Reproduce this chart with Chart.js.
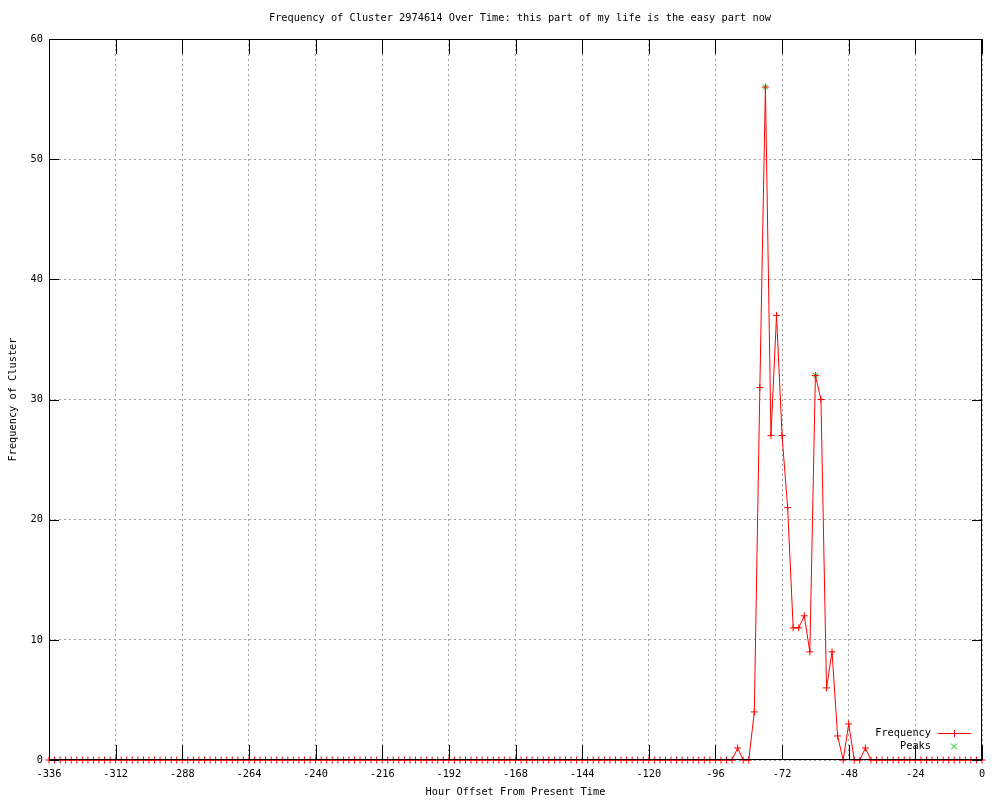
<!DOCTYPE html>
<html>
<head>
  <script src="https://cdn.jsdelivr.net/npm/chart.js"></script>
  <style>
    html, body { margin: 0; padding: 0; background: #fff; }
  </style>
</head>
<body>
  <div style="width: 1000px; height: 800px;">
    <canvas id="freqChart" width="1000" height="800"></canvas>
  </div>

  <script>

    // one sample every 2 hours, from -336 to 0
    const hours = [];
    for (let h = -336; h <= 0; h += 2) hours.push(h);

    const frequency = [
      0,0,0,0,0,0,0,0,0,0,0,0,   // -336 .. -314
      0,0,0,0,0,0,0,0,0,0,0,0,   // -312 .. -290
      0,0,0,0,0,0,0,0,0,0,0,0,   // -288 .. -266
      0,0,0,0,0,0,0,0,0,0,0,0,   // -264 .. -242
      0,0,0,0,0,0,0,0,0,0,0,0,   // -240 .. -218
      0,0,0,0,0,0,0,0,0,0,0,0,   // -216 .. -194
      0,0,0,0,0,0,0,0,0,0,0,0,   // -192 .. -170
      0,0,0,0,0,0,0,0,0,0,0,0,   // -168 .. -146
      0,0,0,0,0,0,0,0,0,0,0,0,   // -144 .. -122
      0,0,0,0,0,0,0,0,0,0,0,0,   // -120 .. -98
      0,0,0,0,                   // -96 .. -90
      1,0,0,4,31,56,27,37,27,21,11,11,   // -88 .. -66
      12,9,32,30,6,9,2,0,3,0,0,1,        // -64 .. -42
      0,0,0,0,0,0,0,0,0,0,0,0,   // -40 .. -18
      0,0,0,0,0,0,0,0,0          // -16 .. 0
    ];

    const peakHours = [-78, -60];
    const peakValues = [56, 32];

    const xTicks = [-336, -312, -288, -264, -240, -216, -192, -168, -144, -120, -96, -72, -48, -24, 0];
    const yTicks = [0, 10, 20, 30, 40, 50, 60];

    const TITLE = 'Frequency of Cluster 2974614 Over Time: this part of my life is the easy part now';
    const FONT = { family: '"DejaVu Sans Mono", "Liberation Mono", monospace', size: 10.3 };
    const RED = '#ff0000';
    const GREEN = '#00c000';

    // gnuplot-like frame: black border, inward tic marks, title and key
    const framePlugin = {
      id: 'frame',
      afterDatasetsDraw(chart) {
        const { ctx, chartArea: a, scales: { x, y } } = chart;
        ctx.save();
        ctx.strokeStyle = '#000';
        ctx.lineWidth = 1;
        ctx.beginPath();
        xTicks.forEach(v => {
          const px = Math.round(x.getPixelForValue(v)) + 0.5;
          ctx.moveTo(px, a.bottom); ctx.lineTo(px, a.bottom - 15);
          ctx.moveTo(px, a.top); ctx.lineTo(px, a.top + 15);
        });
        yTicks.forEach(v => {
          const py = Math.round(y.getPixelForValue(v)) + 0.5;
          ctx.moveTo(a.left, py); ctx.lineTo(a.left + 10, py);
          ctx.moveTo(a.right, py); ctx.lineTo(a.right - 10, py);
        });
        ctx.stroke();
        ctx.strokeRect(Math.round(a.left) + 0.5, Math.round(a.top) + 0.5,
                       Math.round(a.width) - 1, Math.round(a.height) - 1);

        ctx.font = FONT.size + 'px ' + FONT.family;
        ctx.fillStyle = '#000';
        ctx.textBaseline = 'middle';

        // title, centred a little right of the canvas middle as gnuplot does
        ctx.textAlign = 'center';
        ctx.fillText(TITLE, 520, 18);

        // key
        const keyX = a.right - 51;
        const symX = a.right - 28;
        ctx.textAlign = 'right';
        chart.data.datasets.forEach((ds, i) => {
          const ky = a.bottom - 27 + i * 13 + 0.5;
          ctx.fillText(ds.label, keyX, ky);
          ctx.strokeStyle = ds.pointBorderColor;
          ctx.beginPath();
          if (ds.showLine) {
            ctx.moveTo(symX - 16, ky); ctx.lineTo(symX + 17, ky);
          }
          if (ds.pointStyle === 'cross') {
            ctx.moveTo(symX - 3.5, ky); ctx.lineTo(symX + 3.5, ky);
            ctx.moveTo(symX + 0.5, ky - 3.5); ctx.lineTo(symX + 0.5, ky + 3.5);
          } else {
            ctx.moveTo(symX - 3, ky - 3); ctx.lineTo(symX + 3, ky + 3);
            ctx.moveTo(symX - 3, ky + 3); ctx.lineTo(symX + 3, ky - 3);
          }
          ctx.stroke();
        });
        ctx.restore();
      }
    };

    const ctx = document.getElementById('freqChart').getContext('2d');
    const freqChart = new Chart(ctx, {
      type: 'line',
      data: {
        datasets: [
          {
            label: 'Frequency',
            data: hours.map((h, i) => ({ x: h, y: frequency[i] })),
            borderColor: RED,
            borderWidth: 1,
            tension: 0,
            pointStyle: 'cross',
            pointRadius: 3.5,
            pointBorderColor: RED,
            pointBorderWidth: 1,
            pointHoverRadius: 3.5,
            showLine: true,
            clip: 6,
          },
          {
            label: 'Peaks',
            data: peakHours.map((h, i) => ({ x: h, y: peakValues[i] })),
            borderColor: GREEN,
            pointStyle: 'crossRot',
            pointRadius: 3.5,
            pointBorderColor: GREEN,
            pointBorderWidth: 1,
            pointHoverRadius: 3.5,
            showLine: false,
            clip: 6,
          },
        ],
      },
      options: {
        responsive: false,
        animation: false,
        events: [],
        layout: { padding: { left: 0, right: 18, top: 39, bottom: 0 } },
        scales: {
          x: {
            type: 'linear',
            min: -336,
            max: 0,
            afterBuildTicks: (scale) => { scale.ticks = xTicks.map(v => ({ value: v })); },
            afterFit: (scale) => { scale.height = 40; },
            ticks: {
              color: '#000',
              font: FONT,
              padding: 8,
              maxRotation: 0,
              autoSkip: false,
              callback: (v) => String(v),
            },
            grid: { color: '#a0a0a0', lineWidth: 1, drawTicks: false },
            border: { display: false, dash: [2, 3] },
            title: {
              display: true,
              text: 'Hour Offset From Present Time',
              color: '#000',
              font: FONT,
              padding: { top: 0, bottom: 1 },
            },
          },
          y: {
            min: 0,
            max: 60,
            afterBuildTicks: (scale) => { scale.ticks = yTicks.map(v => ({ value: v })); },
            afterFit: (scale) => { scale.width = 49; },
            ticks: {
              color: '#000',
              font: FONT,
              padding: 6,
              callback: (v) => String(v),
            },
            grid: { color: '#a0a0a0', lineWidth: 1, drawTicks: false },
            border: { display: false, dash: [2, 3] },
            title: {
              display: true,
              text: 'Frequency of Cluster',
              color: '#000',
              font: FONT,
              padding: { top: 7, bottom: 0 },
            },
          },
        },
        plugins: {
          legend: { display: false },
          tooltip: { enabled: false },
          title: { display: false },
        },
      },
      plugins: [framePlugin],
    });
  </script>
</body>
</html>
